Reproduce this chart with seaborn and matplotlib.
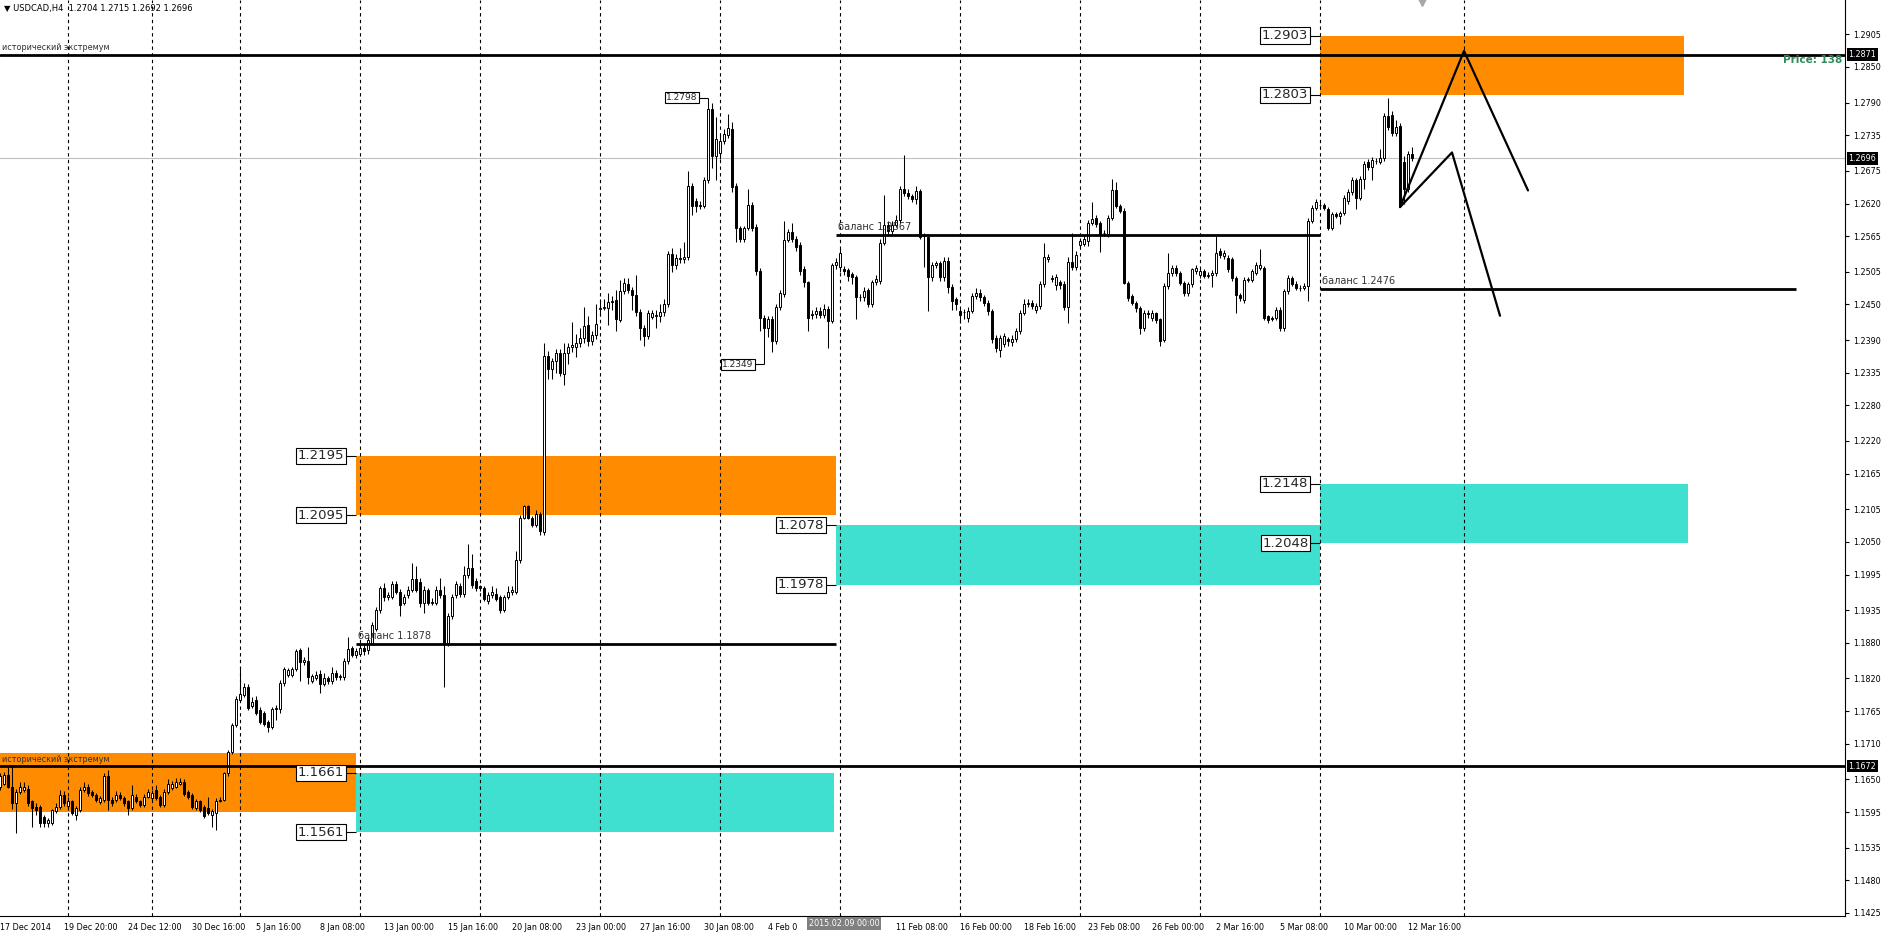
import matplotlib
matplotlib.use("Agg")
import matplotlib.pyplot as plt
import matplotlib.transforms as mtransforms
from matplotlib.patches import Rectangle
import numpy as np
import pandas as pd
import seaborn as sns


# USDCAD H4 candles, one value per bar
OPENS = [
    1.1638, 1.1643, 1.1657, 1.1638, 1.1610, 1.1629, 1.1632, 1.1633, 1.1613, 1.1604,
    1.1604, 1.1587, 1.1576, 1.1576, 1.1596, 1.1604, 1.1624, 1.1605, 1.1613, 1.1590,
    1.1598, 1.1632, 1.1638, 1.1629, 1.1624, 1.1612, 1.1615, 1.1655, 1.1615, 1.1615,
    1.1624, 1.1618, 1.1613, 1.1601, 1.1621, 1.1613, 1.1607, 1.1621, 1.1618, 1.1632,
    1.1621, 1.1607, 1.1629, 1.1635, 1.1638, 1.1643, 1.1646, 1.1629, 1.1624, 1.1601,
    1.1613, 1.1604, 1.1601, 1.1590, 1.1594, 1.1614, 1.1616, 1.1660, 1.1696, 1.1742,
    1.1784, 1.1792, 1.1805, 1.1773, 1.1784, 1.1767, 1.1761, 1.1747, 1.1739, 1.1768,
    1.1768, 1.1812, 1.1826, 1.1826, 1.1836, 1.1868, 1.1847, 1.1849, 1.1816, 1.1820,
    1.1828, 1.1811, 1.1820, 1.1815, 1.1829, 1.1822, 1.1822, 1.1849, 1.1871, 1.1860,
    1.1862, 1.1872, 1.1868, 1.1880, 1.1904, 1.1935, 1.1972, 1.1957, 1.1957, 1.1979,
    1.1966, 1.1947, 1.1960, 1.1969, 1.1988, 1.1982, 1.1947, 1.1969, 1.1947, 1.1947,
    1.1969, 1.1960, 1.1880, 1.1925, 1.1960, 1.1975, 1.1962, 1.1994, 1.2006, 1.1985,
    1.1975, 1.1972, 1.1950, 1.1960, 1.1963, 1.1957, 1.1935, 1.1957, 1.1966, 1.1966,
    1.2019, 1.2091, 1.2110, 1.2091, 1.2079, 1.2097, 1.2066, 1.2363, 1.2341, 1.2354,
    1.2369, 1.2332, 1.2369, 1.2379, 1.2379, 1.2385, 1.2394, 1.2416, 1.2388, 1.2398,
    1.2443, 1.2444, 1.2444, 1.2454, 1.2457, 1.2423, 1.2472, 1.2485, 1.2475, 1.2466,
    1.2438, 1.2410, 1.2397, 1.2429, 1.2431, 1.2431, 1.2438, 1.2450, 1.2535, 1.2516,
    1.2529, 1.2526, 1.2530, 1.2650, 1.2625, 1.2617, 1.2616, 1.2660, 1.2779, 1.2700,
    1.2705, 1.2726, 1.2736, 1.2746, 1.2650, 1.2578, 1.2561, 1.2578, 1.2618, 1.2581,
    1.2507, 1.2428, 1.2411, 1.2425, 1.2388, 1.2445, 1.2468, 1.2559, 1.2572, 1.2561,
    1.2550, 1.2510, 1.2487, 1.2432, 1.2434, 1.2439, 1.2433, 1.2442, 1.2422, 1.2516,
    1.2513, 1.2510, 1.2508, 1.2501, 1.2496, 1.2463, 1.2462, 1.2474, 1.2450, 1.2487,
    1.2490, 1.2553, 1.2584, 1.2573, 1.2584, 1.2593, 1.2644, 1.2638, 1.2632, 1.2627,
    1.2641, 1.2567, 1.2564, 1.2496, 1.2516, 1.2519, 1.2496, 1.2524, 1.2479, 1.2459,
    1.2439, 1.2438, 1.2428, 1.2439, 1.2464, 1.2470, 1.2462, 1.2453, 1.2439, 1.2394,
    1.2374, 1.2383, 1.2391, 1.2386, 1.2391, 1.2405, 1.2436, 1.2450, 1.2453, 1.2440,
    1.2447, 1.2485, 1.2527, 1.2494, 1.2482, 1.2488, 1.2485, 1.2445, 1.2522, 1.2513,
    1.2550, 1.2552, 1.2557, 1.2587, 1.2595, 1.2587, 1.2570, 1.2568, 1.2596, 1.2642,
    1.2616, 1.2608, 1.2486, 1.2464, 1.2452, 1.2444, 1.2410, 1.2435, 1.2427, 1.2435,
    1.2425, 1.2390, 1.2481, 1.2503, 1.2512, 1.2503, 1.2486, 1.2469, 1.2485, 1.2506,
    1.2500, 1.2506, 1.2498, 1.2500, 1.2503, 1.2540, 1.2531, 1.2529, 1.2526, 1.2495,
    1.2466, 1.2458, 1.2492, 1.2492, 1.2503, 1.2512, 1.2512, 1.2430, 1.2427, 1.2427,
    1.2441, 1.2410, 1.2472, 1.2495, 1.2485, 1.2478, 1.2478, 1.2481, 1.2591, 1.2613,
    1.2617, 1.2617, 1.2611, 1.2579, 1.2602, 1.2599, 1.2604, 1.2625, 1.2639, 1.2659,
    1.2630, 1.2661, 1.2690, 1.2681, 1.2691, 1.2690, 1.2696, 1.2768, 1.2769, 1.2738,
    1.2751, 1.2690, 1.2644, 1.2704,
]
CLOSES = [
    1.1655, 1.1657, 1.1638, 1.1610, 1.1629, 1.1638, 1.1638, 1.1610, 1.1601, 1.1598,
    1.1576, 1.1576, 1.1582, 1.1598, 1.1604, 1.1624, 1.1610, 1.1613, 1.1593, 1.1601,
    1.1632, 1.1638, 1.1627, 1.1624, 1.1615, 1.1618, 1.1655, 1.1615, 1.1610, 1.1624,
    1.1618, 1.1610, 1.1601, 1.1624, 1.1613, 1.1607, 1.1621, 1.1629, 1.1627, 1.1618,
    1.1607, 1.1629, 1.1643, 1.1643, 1.1646, 1.1646, 1.1625, 1.1621, 1.1604, 1.1613,
    1.1598, 1.1588, 1.1593, 1.1596, 1.1613, 1.1616, 1.1660, 1.1696, 1.1742, 1.1785,
    1.1793, 1.1805, 1.1771, 1.1781, 1.1761, 1.1747, 1.1744, 1.1739, 1.1768, 1.1770,
    1.1812, 1.1836, 1.1834, 1.1836, 1.1866, 1.1847, 1.1851, 1.1822, 1.1824, 1.1826,
    1.1811, 1.1820, 1.1815, 1.1829, 1.1822, 1.1824, 1.1850, 1.1869, 1.1860, 1.1866,
    1.1872, 1.1866, 1.1885, 1.1910, 1.1935, 1.1972, 1.1957, 1.1960, 1.1979, 1.1966,
    1.1944, 1.1957, 1.1969, 1.1988, 1.1969, 1.1947, 1.1969, 1.1947, 1.1949, 1.1969,
    1.1960, 1.1880, 1.1925, 1.1957, 1.1979, 1.1962, 1.1994, 1.2006, 1.1978, 1.1972,
    1.1972, 1.1954, 1.1960, 1.1966, 1.1954, 1.1935, 1.1957, 1.1966, 1.1969, 1.2019,
    1.2091, 1.2110, 1.2091, 1.2079, 1.2097, 1.2069, 1.2363, 1.2341, 1.2354, 1.2369,
    1.2335, 1.2369, 1.2379, 1.2382, 1.2385, 1.2394, 1.2413, 1.2388, 1.2398, 1.2417,
    1.2444, 1.2445, 1.2454, 1.2456, 1.2425, 1.2472, 1.2486, 1.2475, 1.2466, 1.2438,
    1.2410, 1.2397, 1.2435, 1.2435, 1.2433, 1.2438, 1.2450, 1.2535, 1.2516, 1.2529,
    1.2526, 1.2530, 1.2650, 1.2616, 1.2616, 1.2615, 1.2660, 1.2779, 1.2700, 1.2729,
    1.2726, 1.2737, 1.2747, 1.2647, 1.2578, 1.2561, 1.2578, 1.2618, 1.2578, 1.2507,
    1.2428, 1.2411, 1.2425, 1.2388, 1.2445, 1.2470, 1.2559, 1.2572, 1.2561, 1.2547,
    1.2507, 1.2487, 1.2428, 1.2434, 1.2439, 1.2432, 1.2443, 1.2422, 1.2516, 1.2522,
    1.2537, 1.2506, 1.2498, 1.2496, 1.2462, 1.2462, 1.2473, 1.2451, 1.2487, 1.2493,
    1.2553, 1.2584, 1.2573, 1.2584, 1.2593, 1.2644, 1.2638, 1.2632, 1.2627, 1.2641,
    1.2564, 1.2565, 1.2496, 1.2516, 1.2519, 1.2496, 1.2524, 1.2479, 1.2456, 1.2450,
    1.2432, 1.2437, 1.2439, 1.2464, 1.2470, 1.2462, 1.2452, 1.2439, 1.2391, 1.2377,
    1.2394, 1.2397, 1.2389, 1.2391, 1.2405, 1.2436, 1.2450, 1.2453, 1.2447, 1.2447,
    1.2485, 1.2530, 1.2530, 1.2493, 1.2496, 1.2482, 1.2445, 1.2522, 1.2513, 1.2533,
    1.2557, 1.2560, 1.2587, 1.2594, 1.2585, 1.2568, 1.2571, 1.2596, 1.2643, 1.2616,
    1.2608, 1.2486, 1.2461, 1.2453, 1.2444, 1.2410, 1.2435, 1.2434, 1.2435, 1.2424,
    1.2388, 1.2481, 1.2503, 1.2512, 1.2503, 1.2486, 1.2469, 1.2485, 1.2509, 1.2512,
    1.2506, 1.2498, 1.2500, 1.2503, 1.2537, 1.2534, 1.2537, 1.2509, 1.2495, 1.2466,
    1.2461, 1.2492, 1.2493, 1.2506, 1.2517, 1.2517, 1.2427, 1.2424, 1.2426, 1.2441,
    1.2410, 1.2472, 1.2495, 1.2485, 1.2478, 1.2477, 1.2481, 1.2591, 1.2613, 1.2623,
    1.2617, 1.2613, 1.2579, 1.2602, 1.2599, 1.2604, 1.2629, 1.2639, 1.2659, 1.2630,
    1.2661, 1.2687, 1.2681, 1.2694, 1.2692, 1.2696, 1.2768, 1.2749, 1.2738, 1.2749,
    1.2617, 1.2644, 1.2704, 1.2696,
]
HIGHS = [
    1.1660, 1.1662, 1.1671, 1.1672, 1.1634, 1.1645, 1.1645, 1.1640, 1.1615, 1.1610,
    1.1607, 1.1590, 1.1585, 1.1600, 1.1610, 1.1632, 1.1630, 1.1620, 1.1616, 1.1605,
    1.1638, 1.1645, 1.1643, 1.1632, 1.1627, 1.1622, 1.1660, 1.1666, 1.1620, 1.1630,
    1.1628, 1.1622, 1.1616, 1.1640, 1.1626, 1.1616, 1.1625, 1.1634, 1.1632, 1.1640,
    1.1624, 1.1634, 1.1650, 1.1648, 1.1652, 1.1652, 1.1650, 1.1632, 1.1627, 1.1617,
    1.1616, 1.1607, 1.1620, 1.1600, 1.1618, 1.1620, 1.1663, 1.1700, 1.1745, 1.1790,
    1.1840, 1.1812, 1.1810, 1.1788, 1.1790, 1.1772, 1.1765, 1.1750, 1.1772, 1.1775,
    1.1817, 1.1840, 1.1838, 1.1840, 1.1870, 1.1872, 1.1856, 1.1873, 1.1828, 1.1832,
    1.1834, 1.1830, 1.1824, 1.1840, 1.1834, 1.1828, 1.1855, 1.1890, 1.1875, 1.1872,
    1.1878, 1.1876, 1.1890, 1.1915, 1.1940, 1.1975, 1.1980, 1.1966, 1.1985, 1.1985,
    1.1970, 1.1962, 1.1975, 1.2015, 1.2010, 1.1990, 1.1975, 1.1972, 1.1955, 1.1975,
    1.1990, 1.1975, 1.1930, 1.1962, 1.1985, 1.1980, 1.2010, 1.2047, 1.2030, 1.1990,
    1.1978, 1.1976, 1.1965, 1.1975, 1.1972, 1.1960, 1.1960, 1.1975, 1.1975, 1.2035,
    1.2095, 1.2113, 1.2113, 1.2094, 1.2103, 1.2100, 1.2385, 1.2372, 1.2360, 1.2375,
    1.2375, 1.2385, 1.2385, 1.2420, 1.2400, 1.2410, 1.2445, 1.2430, 1.2405, 1.2450,
    1.2460, 1.2460, 1.2470, 1.2465, 1.2475, 1.2492, 1.2495, 1.2495, 1.2480, 1.2500,
    1.2442, 1.2415, 1.2440, 1.2440, 1.2440, 1.2450, 1.2460, 1.2540, 1.2545, 1.2535,
    1.2545, 1.2555, 1.2674, 1.2655, 1.2630, 1.2625, 1.2664, 1.2798, 1.2790, 1.2765,
    1.2735, 1.2745, 1.2771, 1.2758, 1.2655, 1.2582, 1.2582, 1.2644, 1.2622, 1.2585,
    1.2512, 1.2432, 1.2430, 1.2430, 1.2450, 1.2475, 1.2590, 1.2577, 1.2587, 1.2565,
    1.2555, 1.2515, 1.2490, 1.2440, 1.2445, 1.2445, 1.2450, 1.2448, 1.2520, 1.2528,
    1.2545, 1.2515, 1.2512, 1.2505, 1.2500, 1.2468, 1.2480, 1.2478, 1.2492, 1.2500,
    1.2560, 1.2635, 1.2590, 1.2590, 1.2600, 1.2650, 1.2701, 1.2645, 1.2636, 1.2650,
    1.2645, 1.2570, 1.2568, 1.2522, 1.2524, 1.2524, 1.2530, 1.2530, 1.2485, 1.2462,
    1.2442, 1.2442, 1.2445, 1.2470, 1.2478, 1.2476, 1.2466, 1.2457, 1.2443, 1.2398,
    1.2398, 1.2402, 1.2395, 1.2398, 1.2410, 1.2440, 1.2460, 1.2460, 1.2458, 1.2452,
    1.2490, 1.2553, 1.2535, 1.2500, 1.2502, 1.2492, 1.2490, 1.2530, 1.2570, 1.2540,
    1.2562, 1.2567, 1.2592, 1.2623, 1.2600, 1.2590, 1.2575, 1.2600, 1.2661, 1.2657,
    1.2620, 1.2612, 1.2490, 1.2468, 1.2455, 1.2447, 1.2440, 1.2440, 1.2440, 1.2438,
    1.2428, 1.2486, 1.2536, 1.2516, 1.2516, 1.2506, 1.2490, 1.2488, 1.2512, 1.2516,
    1.2512, 1.2510, 1.2505, 1.2508, 1.2567, 1.2545, 1.2542, 1.2533, 1.2530, 1.2498,
    1.2470, 1.2496, 1.2497, 1.2510, 1.2522, 1.2543, 1.2515, 1.2433, 1.2431, 1.2446,
    1.2445, 1.2476, 1.2500, 1.2498, 1.2489, 1.2482, 1.2486, 1.2596, 1.2618, 1.2627,
    1.2622, 1.2621, 1.2614, 1.2606, 1.2606, 1.2608, 1.2634, 1.2644, 1.2664, 1.2663,
    1.2666, 1.2692, 1.2695, 1.2698, 1.2697, 1.2711, 1.2773, 1.2798, 1.2775, 1.2760,
    1.2755, 1.2700, 1.2709, 1.2715,
]
LOWS = [
    1.1632, 1.1640, 1.1635, 1.1600, 1.1559, 1.1625, 1.1628, 1.1605, 1.1570, 1.1590,
    1.1570, 1.1570, 1.1570, 1.1573, 1.1593, 1.1600, 1.1605, 1.1598, 1.1590, 1.1582,
    1.1595, 1.1628, 1.1622, 1.1620, 1.1612, 1.1609, 1.1612, 1.1598, 1.1605, 1.1612,
    1.1615, 1.1606, 1.1590, 1.1598, 1.1610, 1.1603, 1.1604, 1.1618, 1.1615, 1.1615,
    1.1603, 1.1604, 1.1626, 1.1632, 1.1635, 1.1640, 1.1622, 1.1617, 1.1600, 1.1598,
    1.1595, 1.1585, 1.1590, 1.1570, 1.1564, 1.1612, 1.1613, 1.1655, 1.1693, 1.1738,
    1.1780, 1.1788, 1.1767, 1.1770, 1.1758, 1.1743, 1.1740, 1.1730, 1.1735, 1.1750,
    1.1762, 1.1808, 1.1822, 1.1822, 1.1832, 1.1815, 1.1843, 1.1810, 1.1812, 1.1817,
    1.1795, 1.1807, 1.1811, 1.1811, 1.1818, 1.1818, 1.1818, 1.1845, 1.1856, 1.1855,
    1.1858, 1.1860, 1.1862, 1.1876, 1.1900, 1.1930, 1.1950, 1.1952, 1.1954, 1.1962,
    1.1925, 1.1944, 1.1955, 1.1965, 1.1965, 1.1940, 1.1930, 1.1943, 1.1944, 1.1943,
    1.1955, 1.1806, 1.1875, 1.1920, 1.1955, 1.1958, 1.1958, 1.1990, 1.1972, 1.1968,
    1.1968, 1.1950, 1.1945, 1.1955, 1.1950, 1.1930, 1.1932, 1.1954, 1.1960, 1.1962,
    1.2015, 1.2088, 1.2088, 1.2075, 1.2075, 1.2062, 1.2062, 1.2325, 1.2325, 1.2335,
    1.2330, 1.2315, 1.2350, 1.2370, 1.2362, 1.2378, 1.2385, 1.2380, 1.2382, 1.2392,
    1.2430, 1.2440, 1.2415, 1.2440, 1.2405, 1.2420, 1.2468, 1.2470, 1.2440, 1.2430,
    1.2390, 1.2380, 1.2392, 1.2425, 1.2410, 1.2420, 1.2430, 1.2445, 1.2505, 1.2510,
    1.2520, 1.2520, 1.2525, 1.2600, 1.2605, 1.2610, 1.2612, 1.2655, 1.2680, 1.2660,
    1.2695, 1.2720, 1.2730, 1.2640, 1.2556, 1.2555, 1.2555, 1.2575, 1.2574, 1.2500,
    1.2405, 1.2349, 1.2395, 1.2370, 1.2383, 1.2440, 1.2463, 1.2555, 1.2555, 1.2540,
    1.2500, 1.2480, 1.2405, 1.2425, 1.2428, 1.2428, 1.2428, 1.2376, 1.2418, 1.2510,
    1.2505, 1.2500, 1.2490, 1.2485, 1.2425, 1.2455, 1.2455, 1.2445, 1.2445, 1.2482,
    1.2485, 1.2550, 1.2568, 1.2568, 1.2580, 1.2588, 1.2632, 1.2628, 1.2622, 1.2620,
    1.2561, 1.2513, 1.2439, 1.2490, 1.2512, 1.2490, 1.2490, 1.2470, 1.2440, 1.2440,
    1.2418, 1.2425, 1.2420, 1.2435, 1.2460, 1.2455, 1.2448, 1.2432, 1.2385, 1.2370,
    1.2362, 1.2378, 1.2380, 1.2380, 1.2386, 1.2400, 1.2432, 1.2445, 1.2442, 1.2435,
    1.2442, 1.2480, 1.2522, 1.2488, 1.2475, 1.2476, 1.2440, 1.2418, 1.2508, 1.2508,
    1.2545, 1.2548, 1.2548, 1.2583, 1.2580, 1.2539, 1.2566, 1.2564, 1.2592, 1.2612,
    1.2604, 1.2484, 1.2456, 1.2449, 1.2438, 1.2401, 1.2406, 1.2428, 1.2422, 1.2418,
    1.2380, 1.2386, 1.2476, 1.2498, 1.2498, 1.2482, 1.2464, 1.2465, 1.2480, 1.2502,
    1.2495, 1.2494, 1.2494, 1.2480, 1.2498, 1.2528, 1.2527, 1.2505, 1.2490, 1.2435,
    1.2456, 1.2452, 1.2488, 1.2488, 1.2499, 1.2508, 1.2423, 1.2418, 1.2422, 1.2423,
    1.2405, 1.2406, 1.2468, 1.2481, 1.2474, 1.2473, 1.2474, 1.2456, 1.2587, 1.2609,
    1.2612, 1.2609, 1.2575, 1.2575, 1.2595, 1.2585, 1.2600, 1.2620, 1.2635, 1.2610,
    1.2626, 1.2645, 1.2677, 1.2660, 1.2686, 1.2686, 1.2692, 1.2744, 1.2734, 1.2734,
    1.2615, 1.2620, 1.2640, 1.2692,
]

# time axis (bar index -> label); the 4 Feb label is cut by the cursor box
TIME_TICK_BARS = [0, 16, 32, 48, 64, 80, 96, 112, 128, 144, 160, 176, 192,
                  224, 240, 256, 272, 288, 304, 320, 336, 352]
TIME_TICK_LABELS = ["17 Dec 2014", "19 Dec 20:00", "24 Dec 12:00", "30 Dec 16:00",
                    "5 Jan 16:00", "8 Jan 08:00", "13 Jan 00:00", "15 Jan 16:00",
                    "20 Jan 08:00", "23 Jan 00:00", "27 Jan 16:00", "30 Jan 08:00",
                    "4 Feb 0", "11 Feb 08:00", "16 Feb 00:00", "18 Feb 16:00",
                    "23 Feb 08:00", "26 Feb 00:00", "2 Mar 16:00", "5 Mar 08:00",
                    "10 Mar 00:00", "12 Mar 16:00"]
SEPARATOR_BARS = [17, 38, 60, 90, 120, 150, 180, 210, 240, 270, 300, 330, 366]
CURSOR_BAR = 210
CURSOR_LABEL = "2015.02.09 00:00"

PRICE_TICKS = [1.2905, 1.2850, 1.2790, 1.2735, 1.2675, 1.2620, 1.2565, 1.2505,
               1.2450, 1.2390, 1.2335, 1.2280, 1.2220, 1.2165, 1.2105, 1.2050,
               1.1995, 1.1935, 1.1880, 1.1820, 1.1765, 1.1710, 1.1650, 1.1595,
               1.1535, 1.1480, 1.1425]

# supply / demand zones
ZONE_START = [-5, 89, 89, 209, 330, 330]
ZONE_END = [89, 208.5, 209, 330, 421, 422]
ZONE_LOW = [1.1595, 1.1561, 1.2095, 1.1978, 1.2803, 1.2048]
ZONE_HIGH = [1.1695, 1.1661, 1.2195, 1.2078, 1.2903, 1.2148]
ZONE_KIND = ["supply", "demand", "supply", "demand", "supply", "demand"]

# price tags at zone corners
TAG_BARS = [330, 330, 89, 89, 209, 209, 330, 330, 89, 89]
TAG_PRICES = [1.2903, 1.2803, 1.2195, 1.2095, 1.2078, 1.1978, 1.2148, 1.2048, 1.1661, 1.1561]
SWING_BARS = [177, 191]
SWING_PRICES = [1.2798, 1.2349]

# balance lines
BALANCE_START = [89, 209, 330]
BALANCE_END = [209, 330, 449]
BALANCE_PRICE = [1.1878, 1.2567, 1.2476]

EXTREME_PRICES = [1.2871, 1.1672]
BID_PRICE = 1.2696
HEADER = "\u25bc USDCAD,H4  1.2704 1.2715 1.2692 1.2696"

# projected scenarios
PATH_NAME = ["up", "up", "up", "down", "down", "down"]
PATH_BARS = [350, 366, 382, 350, 363, 375]
PATH_PRICES = [1.2614, 1.2877, 1.2642, 1.2614, 1.2706, 1.2431]

FIG_W, FIG_H = 1887, 933
PLOT_W, PLOT_H = 1845, 916
PX_PER_BAR = 4
Y_TOP, Y_BOTTOM = 1.29628, 1.14199
ZONE_COLORS = {"supply": "#ff8c00", "demand": "#40e0d0"}


def draw_candles(ax):
    df = pd.DataFrame({"open": OPENS, "high": HIGHS, "low": LOWS, "close": CLOSES})
    df["bar"] = np.arange(len(df))
    up = df["close"] >= df["open"]
    ax.vlines(df["bar"], df["low"], df["high"], color="black", lw=0.75, zorder=3)
    height = (df["close"] - df["open"]).abs().clip(lower=0.00002)
    bottom = df[["open", "close"]].min(axis=1)
    ax.bar(df["bar"], height, bottom=bottom, width=0.5,
           color=np.where(up, "white", "black"), edgecolor="black", linewidth=0.7, zorder=4)


def price_tag(ax, bar, price, size, gap):
    ax.hlines(price, bar - gap, bar, color="black", lw=0.8, zorder=7)
    ax.text(bar - gap - 0.4, price, f"{price:.4f}", ha="right", va="center", fontsize=size,
            bbox=dict(boxstyle="square,pad=0.12", fc="white", ec="black", lw=0.8), zorder=8)


def main():
    sns.set_style("white")
    plt.rcParams["font.family"] = ["DejaVu Sans"]

    fig = plt.figure(figsize=(FIG_W / 100, FIG_H / 100), dpi=100)
    ax = fig.add_axes([0, (FIG_H - PLOT_H) / FIG_H, PLOT_W / FIG_W, PLOT_H / FIG_H])
    ax.set_xlim(0, PLOT_W / PX_PER_BAR)
    ax.set_ylim(Y_BOTTOM, Y_TOP)

    for x0, x1, lo, hi, kind in zip(ZONE_START, ZONE_END, ZONE_LOW, ZONE_HIGH, ZONE_KIND):
        ax.add_patch(Rectangle((x0, lo), x1 - x0, hi - lo, fc=ZONE_COLORS[kind], ec="none", zorder=0.5))

    for b in SEPARATOR_BARS:
        ax.axvline(b, color="black", lw=0.8, linestyle=(0, (3, 3)), zorder=1)

    ax.axhline(BID_PRICE, color="#c0c0c0", lw=0.8, zorder=1.5)
    for p in EXTREME_PRICES:
        ax.axhline(p, color="black", lw=2.0, zorder=5)
        ax.annotate("исторический экстремум", xy=(0.5, p), xytext=(0, 1.5), textcoords="offset points",
                    ha="left", va="bottom", fontsize=5.8, color="#303030", zorder=6)

    draw_candles(ax)

    for x0, x1, p in zip(BALANCE_START, BALANCE_END, BALANCE_PRICE):
        ax.hlines(p, x0, x1, color="black", lw=2.0, zorder=5)
        ax.annotate(f"баланс {p:.4f}", xy=(x0 + 0.5, p), xytext=(0, 2), textcoords="offset points",
                    ha="left", va="bottom", fontsize=7, color="#333333", zorder=6)

    paths = pd.DataFrame({"path": PATH_NAME, "bar": PATH_BARS, "price": PATH_PRICES})
    sns.lineplot(data=paths, x="bar", y="price", units="path", estimator=None, sort=False,
                 color="black", linewidth=1.6, legend=False, ax=ax, zorder=6)

    for b, p in zip(TAG_BARS, TAG_PRICES):
        price_tag(ax, b, p, 9.5, 2.5)
    for b, p in zip(SWING_BARS, SWING_PRICES):
        price_tag(ax, b, p, 6.5, 2.2)

    # axes cosmetics
    for side in ["top", "left"]:
        ax.spines[side].set_visible(False)
    for side in ["right", "bottom"]:
        ax.spines[side].set_color("black")
        ax.spines[side].set_linewidth(0.8)
    ax.set_xlabel("")
    ax.set_ylabel("")

    ax.yaxis.tick_right()
    ax.set_yticks(PRICE_TICKS)
    ax.set_yticklabels([f"{p:.4f}" for p in PRICE_TICKS])
    ax.tick_params(axis="y", direction="out", length=3, width=0.8, pad=3, labelsize=5.8, colors="black")

    ax.set_xticks(TIME_TICK_BARS)
    ax.set_xticklabels(TIME_TICK_LABELS)
    ax.tick_params(axis="x", direction="out", length=3, width=0.8, pad=2, labelsize=5.8, colors="black")
    for lbl in ax.get_xticklabels():
        lbl.set_horizontalalignment("left")

    ax.annotate(CURSOR_LABEL, xy=(CURSOR_BAR + 1, 0), xycoords=("data", "axes fraction"),
                xytext=(0, -2.5), textcoords="offset points", ha="center", va="top",
                fontsize=5.8, color="white", annotation_clip=False, zorder=10,
                bbox=dict(boxstyle="square,pad=0.25", fc="#808080", ec="none"))

    right = mtransforms.blended_transform_factory(ax.transAxes, ax.transData)
    for p in EXTREME_PRICES + [BID_PRICE]:
        ax.annotate(f"{p:.4f}", xy=(1, p), xycoords=right, xytext=(2.5, 0), textcoords="offset points",
                    ha="left", va="center", fontsize=5.8, color="white", annotation_clip=False, zorder=10,
                    bbox=dict(boxstyle="square,pad=0.2", fc="black", ec="none"))

    ax.text(1 - 3 / PLOT_W, 1.2862, "Price: 138", transform=right, ha="right", va="center",
            fontsize=7.5, fontweight="bold", color="#2e8b57", zorder=10)
    ax.text(4 / PLOT_W, 1 - 8 / PLOT_H, HEADER, transform=ax.transAxes, ha="left", va="center",
            fontsize=6, color="black", zorder=10)
    ax.plot([355.5], [Y_TOP - 0.0004], marker="v", markersize=6, color="#a8a8a8", zorder=10, clip_on=False)

    fig.savefig("out.png", dpi=100, facecolor="white")
    plt.close(fig)


if __name__ == "__main__":
    main()
